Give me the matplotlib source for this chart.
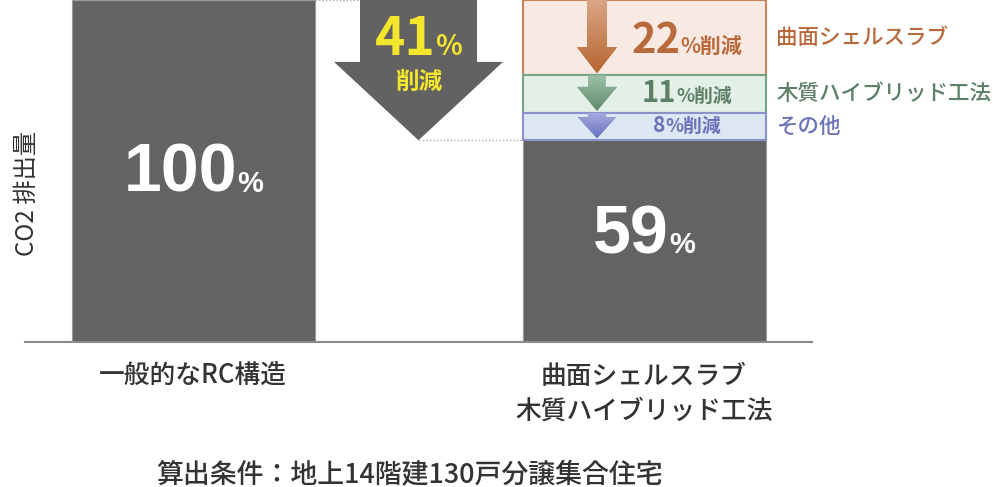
import numpy as np
import matplotlib.pyplot as plt
from matplotlib.patches import FancyArrow
from matplotlib.colors import LinearSegmentedColormap

plt.rcParams['font.family'] = ['Noto Sans CJK JP', 'DejaVu Sans']

# data
categories = ['一般的なRC構造', '曲面シェルスラブ\n木質ハイブリッド工法']
totals = [100, 59]
reduction_names = ['曲面シェルスラブ', '木質ハイブリッド工法', 'その他']
reductions = [22, 11, 8]
total_reduction = 41
ylabel = 'CO2 排出量'
note = '算出条件：地上14階建130戸分譲集合住宅'

# styles
bar_x = [193, 644]
bar_w = 243
bar_color = '#636363'
box_fill = ['#f9e9e3', '#e3f0e7', '#dde7f4']
box_edge = ['#c9825a', '#77a387', '#8a92cc']
text_col = ['#b86a3c', '#5e8068', '#6a72b8']
arrow_top = ['#dba688', '#9cc0a6', '#a7ade0']
arrow_bot = ['#b5662f', '#5f8a6d', '#6a72bd']

fig = plt.figure(figsize=(9.93, 4.87), dpi=100)
ax = fig.add_axes([25 / 993, 145 / 487, 968 / 993, 342 / 487])

ax.bar(bar_x, totals, width=bar_w, color=bar_color, edgecolor='#9a9a9a',
       linewidth=0.8, zorder=2)

pairs = []


def split_label(xc, y, big, small, fs_big, fs_small, color, font=None, gap=1):
    kw = dict(color=color, fontweight='bold', va='baseline', ha='left',
              clip_on=False, zorder=6)
    if font:
        kw['family'] = font
    t1 = ax.text(xc, y, big, fontsize=fs_big, **kw)
    t2 = ax.text(xc, y, small, fontsize=fs_small, **kw)
    pairs.append((t1, t2, xc, y, gap))


def grad_arrow(xc, top, tip, shaft, head, hl, c_top, c_bot):
    arr = FancyArrow(xc, top, 0, tip - top, width=shaft, head_width=head,
                     head_length=hl, length_includes_head=True, lw=0,
                     color=c_bot, zorder=4)
    ax.add_patch(arr)
    cmap = LinearSegmentedColormap.from_list('g', [c_bot, c_top])
    grad = np.linspace(0, 1, 64).reshape(-1, 1)
    im = ax.imshow(grad, extent=(xc - head / 2, xc + head / 2, tip, top),
                   origin='lower', cmap=cmap, aspect='auto', zorder=5)
    im.set_clip_path(arr)


# stacked reduction boxes on top of the second bar
box_x = bar_x[1]
for i, (name, val) in enumerate(zip(reduction_names, reductions)):
    bottom = totals[1] + sum(reductions[i + 1:])
    ax.bar(box_x, val, bottom=bottom, width=bar_w, color=box_fill[i],
           edgecolor=box_edge[i], linewidth=1.5, zorder=3, clip_on=False)
    hl = [7.6, 7.0, 6.1][i]
    grad_arrow(box_x - 47, bottom + val, bottom + 0.6, [20, 17, 17][i],
               [40, 40, 38][i], hl, arrow_top[i], arrow_bot[i])
    fs = [(30, 15), (21, 13.5), (15, 13.5)][i]
    split_label(box_x + 43, bottom + 0.3 * val, str(val), '%削減',
                fs[0], fs[1], text_col[i], gap=0)
    ax.text(bar_x[1] + bar_w / 2 + 11, bottom + val / 2, name,
            color=text_col[i], fontsize=15.5, fontweight='medium',
            ha='left', va='center')

# values inside the bars
for xc, v in zip(bar_x, totals):
    split_label(xc, 0.44 * v, str(v), '%', 49, 21, 'white',
                font='Liberation Sans', gap=0)

# big reduction arrow between bars
mid = (bar_x[0] + bar_w / 2 + bar_x[1] - bar_w / 2) / 2
big = FancyArrow(mid, totals[0], 0, totals[1] - totals[0], width=117,
                 head_width=169, head_length=22.9, length_includes_head=True,
                 lw=0, color='#626262', zorder=4, clip_on=False)
ax.add_patch(big)
split_label(mid, 84, str(total_reduction), '%', 37, 20, '#f4e62c', gap=0)
ax.text(mid, 76, '削減', color='#f4e62c', fontsize=17, fontweight='bold',
        ha='center', va='center', zorder=6)

# dotted guide lines
ax.plot([bar_x[0] + bar_w / 2, mid], [totals[0]] * 2, ls=(0, (1, 1.5)),
        color='#aaaaaa', lw=1, zorder=1, clip_on=False)
ax.plot([mid, bar_x[1] - bar_w / 2], [totals[1]] * 2, ls=(0, (1, 1.5)),
        color='#aaaaaa', lw=1, zorder=1, clip_on=False)

ax.text(27, 43.3, ylabel, rotation=90, ha='center', va='center',
        fontsize=17.5, color='#333333', clip_on=False)

ax.set_xlim(25, 993)
ax.set_ylim(0, 100)
ax.set_xticks(bar_x, categories, fontsize=18.5, color='#333333',
              fontweight='medium', linespacing=1.35)
ax.tick_params(axis='x', length=0, pad=15)
ax.set_yticks([])
for s in ['left', 'top', 'right']:
    ax.spines[s].set_visible(False)
ax.spines['bottom'].set_bounds(25, 812)
ax.spines['bottom'].set_color('#8a8a8a')
ax.spines['bottom'].set_linewidth(1.5)
ax.patch.set_alpha(0)

fig.text(410 / 993, 12 / 487, note, ha='center', va='center', fontsize=19.4,
         color='#333333', fontweight='medium')

# center the number + unit label pairs
fig.canvas.draw()
r = fig.canvas.get_renderer()
inv = ax.transData.inverted()
for t1, t2, xc, y, gap in pairs:
    w1 = t1.get_window_extent(r).width
    w2 = t2.get_window_extent(r).width
    x0, y0 = ax.transData.transform((xc, y))
    left = x0 - (w1 + gap + w2) / 2
    t1.set_position(inv.transform((left, y0)))
    t2.set_position(inv.transform((left + w1 + gap, y0)))

fig.savefig('out.png', dpi=100, facecolor='white')
